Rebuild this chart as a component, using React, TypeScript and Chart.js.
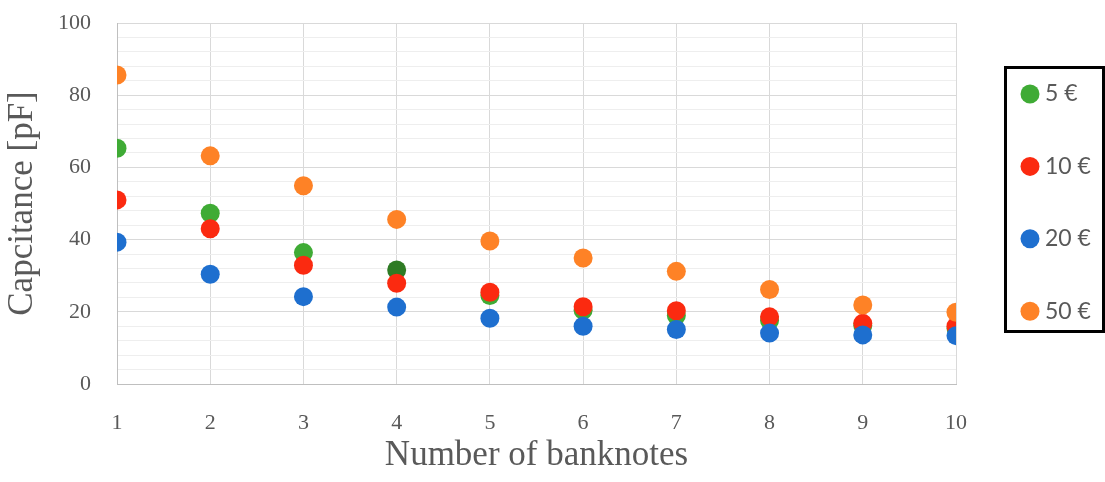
import React, { useEffect, useRef } from 'react';
import { Chart, registerables } from 'chart.js';

Chart.register(...registerables);

const banknoteCounts = [1, 2, 3, 4, 5, 6, 7, 8, 9, 10];
const seriesNames = ['5 €', '10 €', '20 €', '50 €'];
const fiveEuro = [65.3, 47.3, 36.4, 31.6, 24.5, 20.4, 19.0, 17.6, 16.2, 15.4];
const tenEuro = [51.0, 43.0, 32.9, 27.9, 25.4, 21.4, 20.3, 18.6, 16.8, 16.0];
const twentyEuro = [39.3, 30.4, 24.2, 21.3, 18.2, 16.0, 15.1, 14.1, 13.6, 13.4];
const fiftyEuro = [85.6, 63.2, 54.9, 45.6, 39.6, 34.9, 31.2, 26.2, 21.9, 19.9];
const seriesValues = [fiveEuro, tenEuro, twentyEuro, fiftyEuro];
const seriesColors = ['#3fab35', '#fb2a10', '#1e6fcf', '#fe8226'];
const yLabelValues = [0, 20, 40, 60, 80, 100];

const TEXT = '#595959';

const boxLegend = {
  id: 'boxLegend',
  afterDraw(chart: any) {
    const { ctx, chartArea } = chart;
    const left = chartArea.right + 49.5;
    const top = 67.5;
    const right = chart.width - 1.5;
    const bottom = 331.5;
    ctx.save();
    ctx.lineWidth = 3;
    ctx.strokeStyle = '#000000';
    ctx.strokeRect(left, top, right - left, bottom - top);
    chart.data.datasets.forEach((ds: any, i: number) => {
      const y = 94 + i * 72.4;
      ctx.beginPath();
      ctx.fillStyle = seriesColors[i];
      ctx.arc(left + 24.5, y, 9.5, 0, Math.PI * 2);
      ctx.fill();
      ctx.fillStyle = TEXT;
      ctx.font = '23px Lato';
      ctx.textAlign = 'left';
      ctx.textBaseline = 'middle';
      ctx.fillText(ds.label, left + 39.5, y);
    });
    ctx.restore();
  },
};

export default function App() {
  const ref = useRef<HTMLCanvasElement | null>(null);
  useEffect(() => {
    document.body.style.margin = '0';
    const canvas = ref.current;
    if (!canvas) return;
    const datasets = seriesNames.map((name, i) => ({
      label: name,
      data: banknoteCounts.map((x, j) => ({ x, y: seriesValues[i][j] })),
      backgroundColor:
        i === 0
          ? banknoteCounts.map((_, j) => (j === 3 ? '#2e7b24' : seriesColors[0]))
          : seriesColors[i],
      borderWidth: 0,
      pointRadius: 9.5,
      pointHoverRadius: 9.5,
      order: 4 - i,
    }));
    const chart = new Chart(canvas, {
      type: 'scatter',
      data: { datasets },
      plugins: [boxLegend],
      options: {
        animation: false,
        responsive: false,
        maintainAspectRatio: false,
        layout: { padding: { top: 23, right: 149, left: 0, bottom: 0 } },
        plugins: { legend: { display: false }, tooltip: { enabled: false } },
        scales: {
          x: {
            type: 'linear',
            min: 1,
            max: 10,
            afterFit: (s: any) => {
              s.height = 98;
              s.paddingLeft = 0;
              s.paddingRight = 0;
            },
            ticks: {
              stepSize: 1,
              autoSkip: false,
              padding: 26,
              color: TEXT,
              font: { family: 'Liberation Serif', size: 22 },
            },
            grid: { color: '#d9d9d9', lineWidth: 1, drawTicks: false },
            border: { color: '#bfbfbf', width: 1 },
            title: {
              display: true,
              text: 'Number of banknotes',
              color: TEXT,
              font: { family: 'Liberation Serif', size: 35 },
              padding: { top: 0, bottom: 5 },
            },
          },
          y: {
            min: 0,
            max: 100,
            afterFit: (s: any) => {
              s.width = 117;
              s.paddingTop = 0;
              s.paddingBottom = 0;
            },
            ticks: {
              stepSize: 4,
              autoSkip: false,
              padding: 26,
              color: TEXT,
              font: { family: 'Liberation Serif', size: 22 },
              callback: (v: any) => (yLabelValues.includes(v) ? String(v) : ''),
            },
            grid: {
              drawTicks: false,
              lineWidth: 1,
              color: (c: any) =>
                c.tick && yLabelValues.includes(c.tick.value) ? '#d9d9d9' : '#eeeeee',
            },
            border: { color: '#bfbfbf', width: 1 },
            title: {
              display: true,
              text: 'Capcitance [pF]',
              color: TEXT,
              font: { family: 'Liberation Serif', size: 35 },
              padding: { top: 2, bottom: 0 },
            },
          },
        },
      },
    } as any);
    return () => chart.destroy();
  }, []);
  return (
    <div style={{ width: 1105, height: 482, background: '#ffffff' }}>
      <canvas ref={ref} width={1105} height={482} style={{ display: 'block' }} />
    </div>
  );
}
